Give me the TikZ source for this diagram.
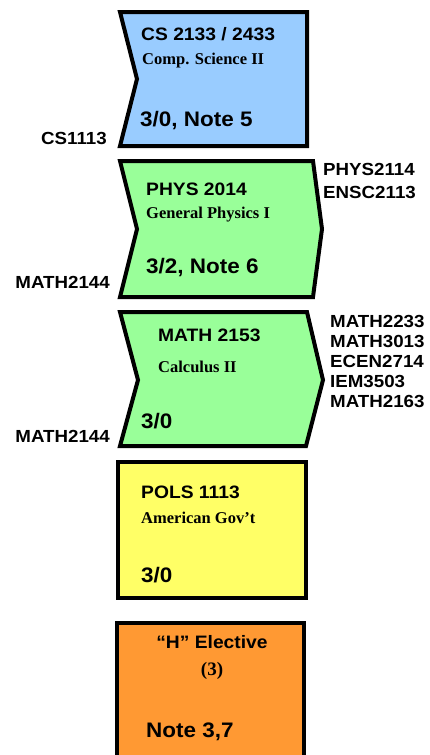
\documentclass[tikz,border=0pt]{standalone}
\usepackage{fontspec}
\usepackage{xcolor}
\usepackage{tikz}
\newfontfamily\ckSans[FakeStretch=1.07]{Liberation Sans}
\newfontfamily\ckSerif{Liberation Serif}
\definecolor{ckBlue}  {RGB}{153,204,255}
\definecolor{ckGreen} {RGB}{153,255,153}
\definecolor{ckYellow}{RGB}{255,255,102}
\definecolor{ckOrange}{RGB}{255,153, 51}

\begin{document}
\begin{tikzpicture}[
  x=1pt,y=-1pt,
  every node/.style={inner sep=0pt},
  crs/.style={draw=black,line width=4pt},
  lbl/.style={font=\fontsize{17.5}{20}\ckSans\bfseries},
  ttl/.style={font=\fontsize{18}{20}\ckSans\bfseries,anchor=base west},
  sub/.style={font=\fontsize{16.5}{18}\ckSerif\bfseries,anchor=base west},
  crd/.style={font=\fontsize{21}{24}\ckSans\bfseries,anchor=base west}
]
\useasboundingbox (0,0) rectangle (429,755);
\clip (0,0) rectangle (429,755);

% CS 2133
\draw[crs,fill=ckBlue] (120,12) -- (307,12) -- (307,146) -- (120,146) -- (137,79) -- cycle;
\node[ttl] (csT) at (141,40)  {CS 2133 / 2433};
\node[sub] (csS) at (142,64)  {Comp. Science II};
\node[crd] (csC) at (140,126) {3/0, Note 5};
\node[lbl,anchor=base east] (csPre) at (107,144) {CS1113};

% PHYS 2014
\draw[crs,fill=ckGreen] (120,161) -- (313,161) -- (322,229) -- (313,297) -- (120,297) -- (137,229) -- cycle;
\node[ttl] (phT) at (146,195) {PHYS 2014};
\node[sub] (phS) at (146,218) {General Physics I};
\node[crd] (phC) at (146,273) {3/2, Note 6};
\node[lbl,anchor=base east] (phPre) at (110,288) {MATH2144};
\node[lbl,anchor=base west] (phNxA) at (323,175) {PHYS2114};
\node[lbl,anchor=base west] (phNxB) at (323,198) {ENSC2113};

% MATH 2153
\draw[crs,fill=ckGreen] (120,312) -- (307,312) -- (323,380) -- (306,446) -- (120,446) -- (138,380) -- cycle;
\node[ttl] (maT) at (158,341) {MATH 2153};
\node[sub] (maS) at (158,372) {Calculus II};
\node[crd] (maC) at (141,428) {3/0};
\node[lbl,anchor=base east] (maPre) at (110,442) {MATH2144};
\node[lbl,anchor=base west] (maNxA) at (330,327) {MATH2233};
\node[lbl,anchor=base west] (maNxB) at (330,347) {MATH3013};
\node[lbl,anchor=base west] (maNxC) at (330,367) {ECEN2714};
\node[lbl,anchor=base west] (maNxD) at (330,387) {IEM3503};
\node[lbl,anchor=base west] (maNxE) at (330,407) {MATH2163};

% POLS 1113
\draw[crs,fill=ckYellow] (118,462) rectangle (306,598);
\node[ttl] (poT) at (141,498) {POLS 1113};
\node[sub] (poS) at (141,523) {American Gov’t};
\node[crd] (poC) at (141,582) {3/0};

% "H" elective
\draw[crs,fill=ckOrange] (117,623) rectangle (304,775);
\node[ttl,anchor=base] (elT) at (212,648) {“H” Elective};
\node[sub,anchor=base,font=\fontsize{19}{20}\ckSerif\bfseries] (elS) at (212,675) {(3)};
\node[crd] (elC) at (146,737) {Note 3,7};
\end{tikzpicture}
\end{document}
